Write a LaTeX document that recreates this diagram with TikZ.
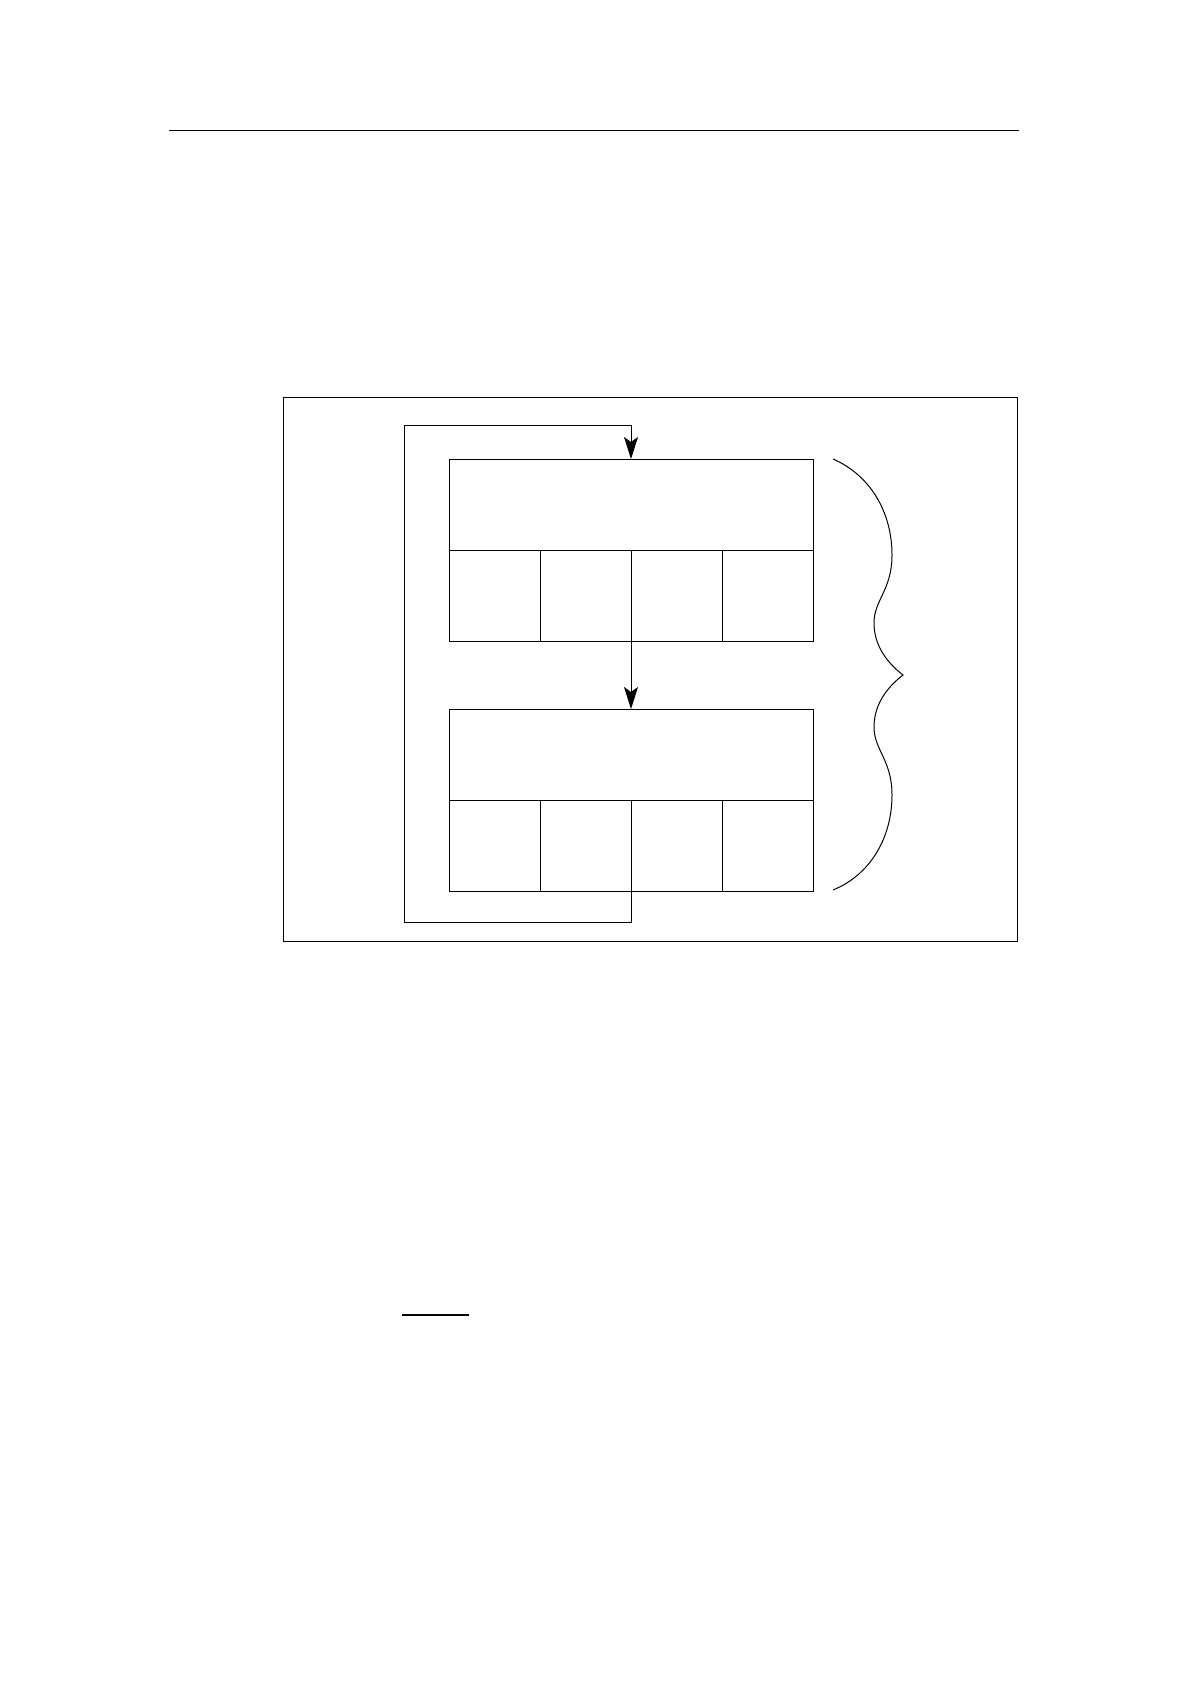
\documentclass[tikz,border=0pt]{standalone}
\usetikzlibrary{positioning,arrows.meta}
\tikzset{
  blk/.style={draw,inner sep=0pt,outer sep=0pt,minimum width=182pt,minimum height=45.5pt},
  cell/.style={draw,inner sep=0pt,outer sep=0pt,minimum width=45.5pt,minimum height=45.5pt},
  flow/.style={-{Stealth[length=11pt,width=7pt,inset=2.5pt]}}
}
\begin{document}
\begin{tikzpicture}[x=0.5pt,y=-0.5pt,line width=0.5pt]
				\useasboundingbox (0,0) rectangle (1190,1684);
				\draw(169,131)--(1019,131);
				\draw(283,398)rectangle(1017,941);
				\node[blk,anchor=north west](hdrA)at(449,459){};
				\node[cell,below right=0pt of hdrA.south west](cellA1){};
				\foreach \i[count=\j from 2] in {1,2,3}
				\node[cell,right=0pt of cellA\i](cellA\j){};
				\node[blk,anchor=north west](hdrB)at(449,709){};
				\node[cell,below right=0pt of hdrB.south west](cellB1){};
				\foreach \i[count=\j from 2] in {1,2,3}
				\node[cell,right=0pt of cellB\i](cellB\j){};
				\coordinate(loopBL)at(404,922);
				\coordinate(loopTL)at(404,426);
				\draw[flow](cellA2.south east)--(hdrB.north);
				\draw[flow](cellB2.south east)|-(loopBL)--(loopTL)-|(hdrA.north);
				\draw(833,459)..controls(870,475)and(892,512)..(892,555)
				..controls(892,590)and(874,600)..(874,623)
				..controls(874,648)and(890,665)..(903,675)
				..controls(890,685)and(874,702)..(874,727)
				..controls(874,750)and(892,760)..(892,795)
				..controls(892,838)and(870,875)..(833,890);
				\draw[line width=0.8pt](402,1315)--(469,1315);
\end{tikzpicture}
\end{document}
